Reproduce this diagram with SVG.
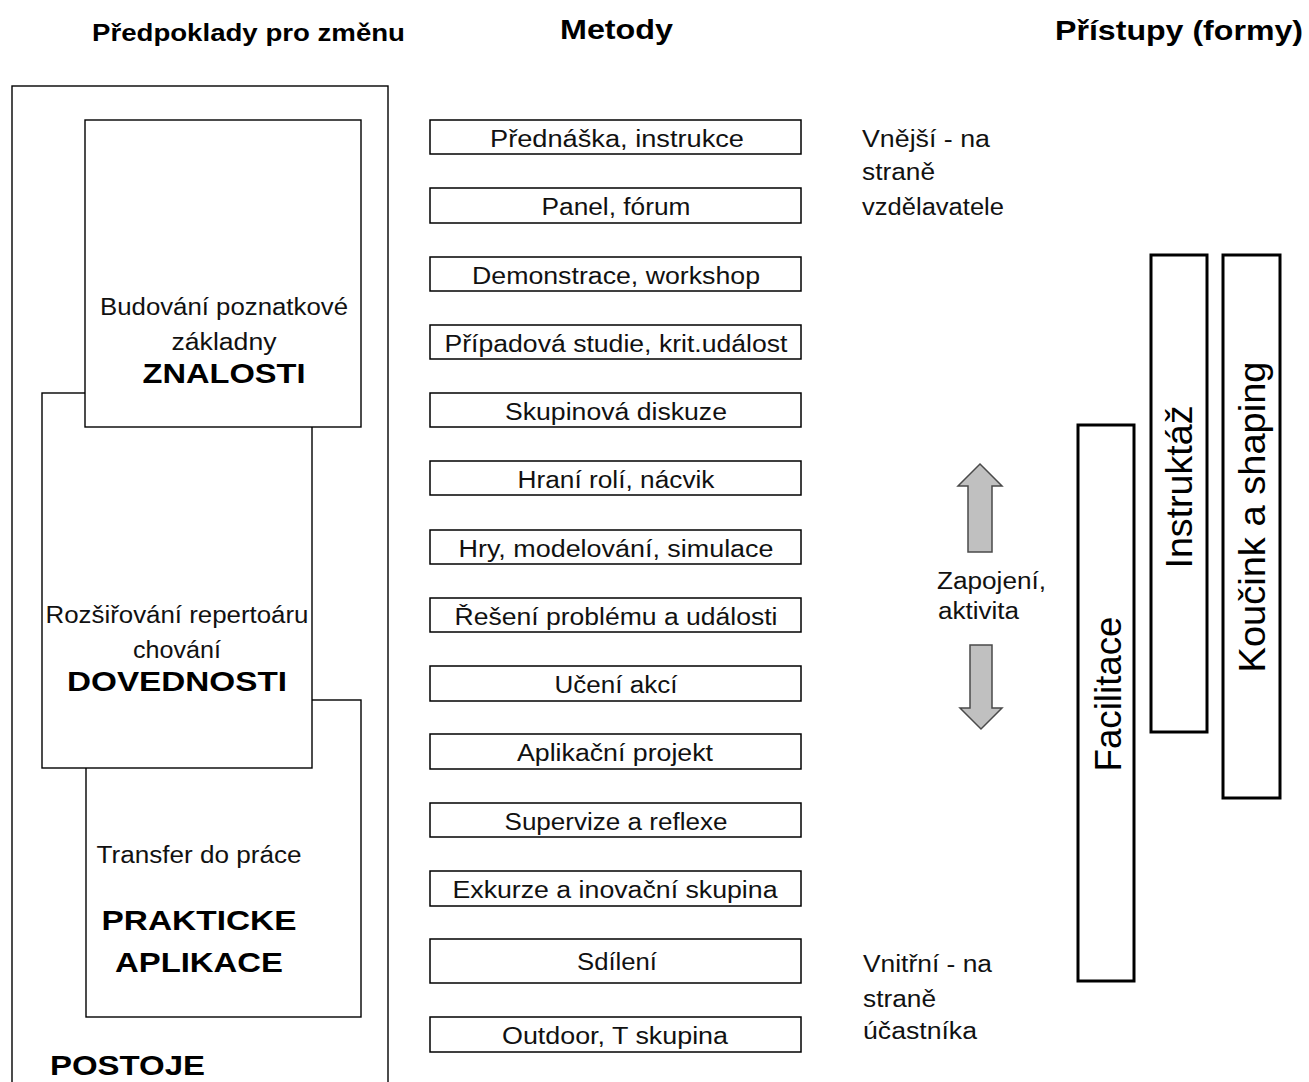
<svg xmlns="http://www.w3.org/2000/svg" width="1309" height="1082" viewBox="0 0 1309 1082">
  <defs>
    <style>
      .bg { fill: #fff; }
      .frame { fill: #fff; stroke: #000; stroke-width: 1.4; }
      .box { fill: #fff; stroke: #000; stroke-width: 1.5; }
      .bar { fill: #fff; stroke: #000; stroke-width: 3; }
      .arrow { fill: #c0c0c0; stroke: #4a4a4a; stroke-width: 1.5; stroke-linejoin: miter; }
      .t { font-family: "Liberation Sans", Arial, sans-serif; font-size: 23px; fill: #111; }
      .m { text-anchor: middle; }
      .b { font-weight: bold; fill: #000; }
      .h1 { font-size: 24px; }
      .h2 { font-size: 28px; }
      .cap { font-size: 28px; }
      .v { font-size: 37px; fill: #000; }
    </style>
  </defs>

  <rect class="bg" x="0" y="0" width="1309" height="1082"/>

  <!-- column headings -->
  <g id="headings">
    <text class="t b h1" x="92" y="41" textLength="313" lengthAdjust="spacingAndGlyphs">Předpoklady pro změnu</text>
    <text class="t b h2" x="560" y="39" textLength="113" lengthAdjust="spacingAndGlyphs">Metody</text>
    <text class="t b h2" x="1055" y="40" textLength="248" lengthAdjust="spacingAndGlyphs">Přístupy (formy)</text>
  </g>

  <!-- left column: nested prerequisites -->
  <g id="postoje">
    <rect class="frame" x="12" y="86" width="376" height="1010"/>
    <text class="t b cap" x="50" y="1075" textLength="155" lengthAdjust="spacingAndGlyphs">POSTOJE</text>
  </g>
  <g id="prakticke-aplikace">
    <rect class="frame" x="86" y="700" width="275" height="317"/>
    <text class="t m" x="199" y="863" textLength="205" lengthAdjust="spacingAndGlyphs">Transfer do práce</text>
    <text class="t b cap m" x="199" y="930" textLength="195" lengthAdjust="spacingAndGlyphs">PRAKTICKE</text>
    <text class="t b cap m" x="199" y="972" textLength="168" lengthAdjust="spacingAndGlyphs">APLIKACE</text>
  </g>
  <g id="dovednosti">
    <rect class="frame" x="42" y="393" width="270" height="375"/>
    <text class="t m" x="177" y="623" textLength="263" lengthAdjust="spacingAndGlyphs">Rozšiřování repertoáru</text>
    <text class="t m" x="177" y="658" textLength="88" lengthAdjust="spacingAndGlyphs">chování</text>
    <text class="t b cap m" x="177" y="691" textLength="220" lengthAdjust="spacingAndGlyphs">DOVEDNOSTI</text>
  </g>
  <g id="znalosti">
    <rect class="frame" x="85" y="120" width="276" height="307"/>
    <text class="t m" x="224" y="315" textLength="248" lengthAdjust="spacingAndGlyphs">Budování poznatkové</text>
    <text class="t m" x="224" y="350" textLength="105" lengthAdjust="spacingAndGlyphs">základny</text>
    <text class="t b cap m" x="224" y="383" textLength="163" lengthAdjust="spacingAndGlyphs">ZNALOSTI</text>
  </g>

  <!-- middle column: methods -->
  <g id="metody">
    <g id="m01"><rect class="box" x="430" y="120" width="371" height="34"/><text class="t m" x="617" y="147" textLength="254" lengthAdjust="spacingAndGlyphs">Přednáška, instrukce</text></g>
    <g id="m02"><rect class="box" x="430" y="188" width="371" height="35"/><text class="t m" x="616" y="215" textLength="149" lengthAdjust="spacingAndGlyphs">Panel, fórum</text></g>
    <g id="m03"><rect class="box" x="430" y="257" width="371" height="34"/><text class="t m" x="616" y="284" textLength="288" lengthAdjust="spacingAndGlyphs">Demonstrace, workshop</text></g>
    <g id="m04"><rect class="box" x="430" y="325" width="371" height="34"/><text class="t m" x="616" y="352" textLength="343" lengthAdjust="spacingAndGlyphs">Případová studie, krit.událost</text></g>
    <g id="m05"><rect class="box" x="430" y="393" width="371" height="34"/><text class="t m" x="616" y="420" textLength="222" lengthAdjust="spacingAndGlyphs">Skupinová diskuze</text></g>
    <g id="m06"><rect class="box" x="430" y="461" width="371" height="34"/><text class="t m" x="616" y="488" textLength="197" lengthAdjust="spacingAndGlyphs">Hraní rolí, nácvik</text></g>
    <g id="m07"><rect class="box" x="430" y="530" width="371" height="34"/><text class="t m" x="616" y="557" textLength="315" lengthAdjust="spacingAndGlyphs">Hry, modelování, simulace</text></g>
    <g id="m08"><rect class="box" x="430" y="598" width="371" height="34"/><text class="t m" x="616" y="625" textLength="323" lengthAdjust="spacingAndGlyphs">Řešení problému a události</text></g>
    <g id="m09"><rect class="box" x="430" y="666" width="371" height="35"/><text class="t m" x="616" y="693" textLength="123" lengthAdjust="spacingAndGlyphs">Učení akcí</text></g>
    <g id="m10"><rect class="box" x="430" y="734" width="371" height="35"/><text class="t m" x="615" y="761" textLength="196" lengthAdjust="spacingAndGlyphs">Aplikační projekt</text></g>
    <g id="m11"><rect class="box" x="430" y="803" width="371" height="34"/><text class="t m" x="616" y="830" textLength="223" lengthAdjust="spacingAndGlyphs">Supervize a reflexe</text></g>
    <g id="m12"><rect class="box" x="430" y="871" width="371" height="35"/><text class="t m" x="615" y="898" textLength="325" lengthAdjust="spacingAndGlyphs">Exkurze a inovační skupina</text></g>
    <g id="m13"><rect class="box" x="430" y="939" width="371" height="44"/><text class="t m" x="617" y="970" textLength="80" lengthAdjust="spacingAndGlyphs">Sdílení</text></g>
    <g id="m14"><rect class="box" x="430" y="1017" width="371" height="35"/><text class="t m" x="615" y="1044" textLength="226" lengthAdjust="spacingAndGlyphs">Outdoor, T skupina</text></g>
  </g>

  <!-- side labels -->
  <g id="vnejsi">
    <text class="t" x="862" y="147" textLength="128" lengthAdjust="spacingAndGlyphs">Vnější - na</text>
    <text class="t" x="862" y="180" textLength="73" lengthAdjust="spacingAndGlyphs">straně</text>
    <text class="t" x="862" y="215" textLength="142" lengthAdjust="spacingAndGlyphs">vzdělavatele</text>
  </g>
  <g id="vnitrni">
    <text class="t" x="863" y="972" textLength="129" lengthAdjust="spacingAndGlyphs">Vnitřní - na</text>
    <text class="t" x="863" y="1007" textLength="73" lengthAdjust="spacingAndGlyphs">straně</text>
    <text class="t" x="863" y="1039" textLength="114" lengthAdjust="spacingAndGlyphs">účastníka</text>
  </g>
  <g id="zapojeni">
    <text class="t" x="937" y="589" textLength="109" lengthAdjust="spacingAndGlyphs">Zapojení,</text>
    <text class="t" x="938" y="619" textLength="81" lengthAdjust="spacingAndGlyphs">aktivita</text>
  </g>

  <!-- block arrows -->
  <g id="connectors">
    <polygon class="arrow" points="980,464 1002,486 992,486 992,552 968,552 968,486 958,486"/>
    <polygon class="arrow" points="970,645 992,645 992,708 1002,708 981,729 960,708 970,708"/>
  </g>

  <!-- right column: approaches -->
  <g id="facilitace">
    <rect class="bar" x="1078" y="425" width="56" height="556"/>
    <text class="t v m" transform="translate(1121,694) rotate(-90)" x="0" y="0" textLength="155" lengthAdjust="spacingAndGlyphs">Facilitace</text>
  </g>
  <g id="instruktaz">
    <rect class="bar" x="1151" y="255" width="56" height="477"/>
    <text class="t v m" transform="translate(1192,487) rotate(-90)" x="0" y="0" textLength="163" lengthAdjust="spacingAndGlyphs">Instruktáž</text>
  </g>
  <g id="koucink">
    <rect class="bar" x="1223" y="255" width="57" height="543"/>
    <text class="t v m" transform="translate(1265,517) rotate(-90)" x="0" y="0" textLength="311" lengthAdjust="spacingAndGlyphs">Koučink a shaping</text>
  </g>
</svg>
